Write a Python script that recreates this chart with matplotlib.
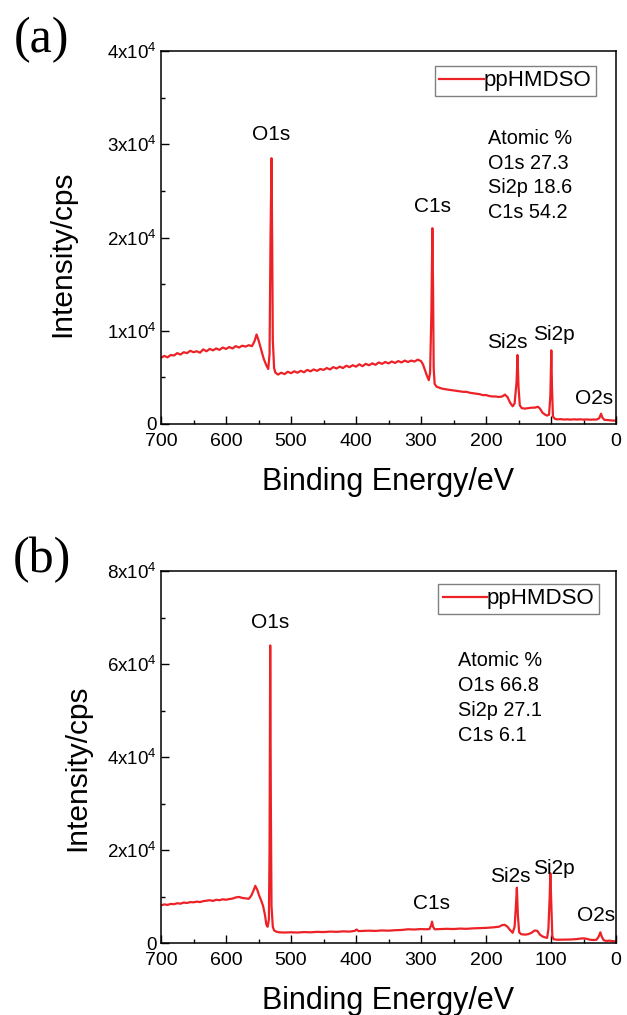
import matplotlib
matplotlib.use("Agg")
import matplotlib.pyplot as plt
from matplotlib.ticker import MultipleLocator, FuncFormatter

plt.rcParams['font.family'] = ['Liberation Sans', 'DejaVu Sans']
plt.rcParams['mathtext.default'] = 'regular'

# ---------------- data ----------------
energy_a = [700, 695, 690, 685, 680, 675, 670, 665, 660, 655, 650, 645, 640, 635, 630, 625, 620,
            615, 610, 605, 600, 595, 590, 585, 580, 575, 570, 565, 560, 556, 553, 550, 546, 542,
            538, 535, 533, 531.5, 530, 529, 528, 526, 524, 520, 515, 510, 505, 500, 495, 490, 485,
            480, 475, 470, 465, 460, 455, 450, 445, 440, 435, 430, 425, 420, 415, 410, 405, 400,
            395, 390, 385, 380, 375, 370, 365, 360, 355, 350, 345, 340, 335, 330, 325, 320, 315,
            310, 305, 300, 297, 294, 291, 288, 286, 284, 282.5, 281.5, 280.5, 279, 276, 272, 268,
            264, 260, 255, 250, 245, 240, 235, 230, 225, 220, 215, 210, 205, 200, 195, 190, 185,
            180, 175, 171, 167, 163, 159, 156, 153, 151.5, 150, 148, 145, 140, 135, 130, 125, 120,
            117, 113, 109, 106, 103, 101, 99.5, 98.5, 97, 94, 90, 85, 80, 75, 70, 65, 60, 55, 50,
            45, 40, 35, 30, 26, 23, 21, 18, 14, 10, 5, 0]
counts_a = [7100, 7300, 7150, 7400, 7350, 7600, 7450, 7700, 7600, 7850, 7700, 7800, 7650, 8000,
            7800, 8050, 7900, 8100, 7950, 8200, 8050, 8250, 8100, 8350, 8200, 8400, 8300, 8450,
            8350, 8900, 9600, 9000, 8000, 7000, 6300, 5900, 7500, 20000, 28500, 20000, 9000, 6000,
            5500, 5300, 5500, 5350, 5600, 5450, 5650, 5500, 5700, 5550, 5800, 5650, 5850, 5700,
            5900, 5800, 6000, 5850, 6100, 5950, 6150, 6000, 6250, 6100, 6300, 6150, 6400, 6200,
            6450, 6300, 6500, 6350, 6600, 6450, 6650, 6500, 6700, 6550, 6750, 6600, 6800, 6650,
            6800, 6700, 6900, 6750, 6400, 5800, 5200, 4700, 5500, 12000, 21000, 15000, 6000, 4300,
            4000, 3900, 3800, 3750, 3700, 3650, 3600, 3550, 3500, 3450, 3450, 3350, 3300, 3250,
            3200, 3100, 3100, 3000, 2950, 2950, 2900, 2950, 3150, 2900, 2300, 1900, 2200, 4500,
            7400, 4000, 2000, 1700, 1650, 1700, 1750, 1750, 1850, 1650, 1200, 1000, 900, 1000,
            3000, 7900, 4000, 800, 550, 500, 520, 480, 500, 470, 500, 480, 500, 470, 490, 460, 480,
            470, 600, 1100, 700, 450, 420, 400, 380, 350]

energy_b = [700, 695, 690, 685, 680, 675, 670, 665, 660, 655, 650, 645, 640, 635, 630, 625, 620,
            615, 610, 605, 600, 595, 590, 585, 580, 575, 570, 565, 561, 557, 555, 552, 549, 546,
            543, 540, 538, 536, 534, 533, 532, 531, 530, 528, 526, 522, 518, 510, 500, 490, 480,
            470, 460, 450, 440, 430, 420, 410, 402, 399, 396, 390, 380, 370, 360, 350, 340, 330,
            320, 310, 300, 292, 287, 284.5, 283, 281.5, 279, 270, 260, 250, 240, 230, 220, 210,
            200, 190, 180, 175, 171, 167, 163, 159, 156, 154, 152.5, 151, 149, 146, 140, 135, 130,
            125, 121, 117, 113, 109, 106, 104, 102, 101, 99.5, 98, 96, 90, 80, 70, 60, 55, 50, 45,
            40, 35, 30, 27, 24, 22, 19, 15, 10, 5, 0]
counts_b = [8100, 8300, 8200, 8400, 8350, 8550, 8450, 8700, 8600, 8800, 8750, 8900, 8800, 9000,
            9100, 9200, 9050, 9300, 9200, 9400, 9300, 9450, 9550, 9800, 9900, 9700, 9600, 9500,
            10200, 11500, 12300, 11500, 10200, 9200, 8000, 6000, 4000, 3500, 5000, 20000, 64000,
            30000, 8000, 3500, 2700, 2400, 2300, 2250, 2300, 2250, 2350, 2300, 2400, 2350, 2450,
            2400, 2500, 2450, 2600, 2900, 2550, 2600, 2650, 2600, 2700, 2650, 2750, 2800, 2950,
            2900, 3000, 2950, 3000, 3800, 4600, 3500, 2950, 3000, 3050, 3000, 3100, 3050, 3150,
            3200, 3250, 3350, 3500, 3850, 3900, 3500, 2800, 2200, 3500, 8000, 11900, 6000, 2300,
            1900, 1800, 1900, 2200, 2700, 2600, 1800, 1400, 1200, 1100, 3000, 10000, 15000, 8000,
            1500, 800, 700, 720, 750, 850, 950, 1000, 900, 700, 650, 700, 1300, 2300, 1400, 600,
            450, 500, 400, 350]

series_label = "ppHMDSO"
ymax_a, ymax_b = 40000, 80000

peak_labels = ["O1s", "C1s", "Si2s", "Si2p", "O2s"]
peak_x_a = [531, 283, 167, 95, 33]
peak_y_a = [31000, 23300, 8750, 9600, 2750]
peak_x_b = [531.5, 284, 162, 96, 31]
peak_y_b = [69000, 8600, 14300, 16000, 6000]

comp_title = "Atomic %"
comp_a = ["O1s 27.3", "Si2p 18.6", "C1s 54.2"]
comp_b = ["O1s 66.8", "Si2p 27.1", "C1s 6.1"]

# ---------------- figure ----------------
W, H = 627, 1015
fig = plt.figure(figsize=(W / 100, H / 100), dpi=100)
red = '#ec2227'

def ax_rect(l, t, r, b):
    return [l / W, 1 - b / H, (r - l) / W, (b - t) / H]

def sci_fmt(v, pos):
    if abs(v) < 1e-9:
        return "0"
    m = int(round(v / 1e4))
    return f"{m}x10$^{{4}}$"

def style(ax, ymax, ymajor):
    ax.set_xlim(700, 0)
    ax.set_ylim(0, ymax)
    ax.xaxis.set_major_locator(MultipleLocator(100))
    ax.xaxis.set_minor_locator(MultipleLocator(50))
    ax.yaxis.set_major_locator(MultipleLocator(ymajor))
    ax.yaxis.set_minor_locator(MultipleLocator(ymajor / 2))
    ax.yaxis.set_major_formatter(FuncFormatter(sci_fmt))
    ax.tick_params(which='both', direction='in', top=False, right=False,
                   width=1.0, colors='black')
    ax.tick_params(which='major', length=5.8)
    ax.tick_params(which='minor', length=3.0)
    ax.tick_params(axis='x', pad=6.5, labelsize=14)
    ax.tick_params(axis='y', pad=3, labelsize=13.5)
    for s in ax.spines.values():
        s.set_linewidth(1.1)

def panel(rect, energy, counts, ymax, ymajor, px, py, comp, comp_x, comp_y0, comp_dy,
          leg_anchor, letter, letter_xy, ylab_xy, xlab_y):
    ax = fig.add_axes(rect)
    ax.plot(energy, counts, color=red, lw=1.6, label=series_label)
    style(ax, ymax, ymajor)
    for lab, x, y in zip(peak_labels, px, py):
        ax.text(x, y, lab, ha='center', va='center', fontsize=15)
    lines = [comp_title] + comp
    for i, t in enumerate(lines):
        ax.text(comp_x, comp_y0 - i * comp_dy, t, ha='left', va='center', fontsize=14.3)
    leg = ax.legend(loc='upper right', bbox_to_anchor=leg_anchor, borderaxespad=0,
                    fontsize=16, handlelength=2.0, handletextpad=0.0, fancybox=False,
                    framealpha=1, edgecolor='#808080', borderpad=0.2)
    leg.get_frame().set_linewidth(1.0)
    fig.text(letter_xy[0] / W, 1 - letter_xy[1] / H, letter, family='Liberation Serif',
             fontsize=36, ha='center', va='center')
    fig.text(ylab_xy[0] / W, 1 - ylab_xy[1] / H, "Intensity/cps", rotation=90,
             fontsize=21.5, ha='center', va='center')
    fig.text(388.5 / W, 1 - xlab_y / H, "Binding Energy/eV", fontsize=22,
             ha='center', va='center')
    return ax

panel(ax_rect(161, 51, 616, 424), energy_a, counts_a, ymax_a, 10000, peak_x_a, peak_y_a,
      comp_a, 197, 30600, 2630, (0.956, 0.960), "(a)", (42, 40), (62, 254), 482)
panel(ax_rect(161, 571, 616, 943), energy_b, counts_b, ymax_b, 20000, peak_x_b, peak_y_b,
      comp_b, 243.5, 60700, 5350, (0.963, 0.965), "(b)", (42, 560), (77, 768), 1001)

fig.savefig("out.png", dpi=100)
